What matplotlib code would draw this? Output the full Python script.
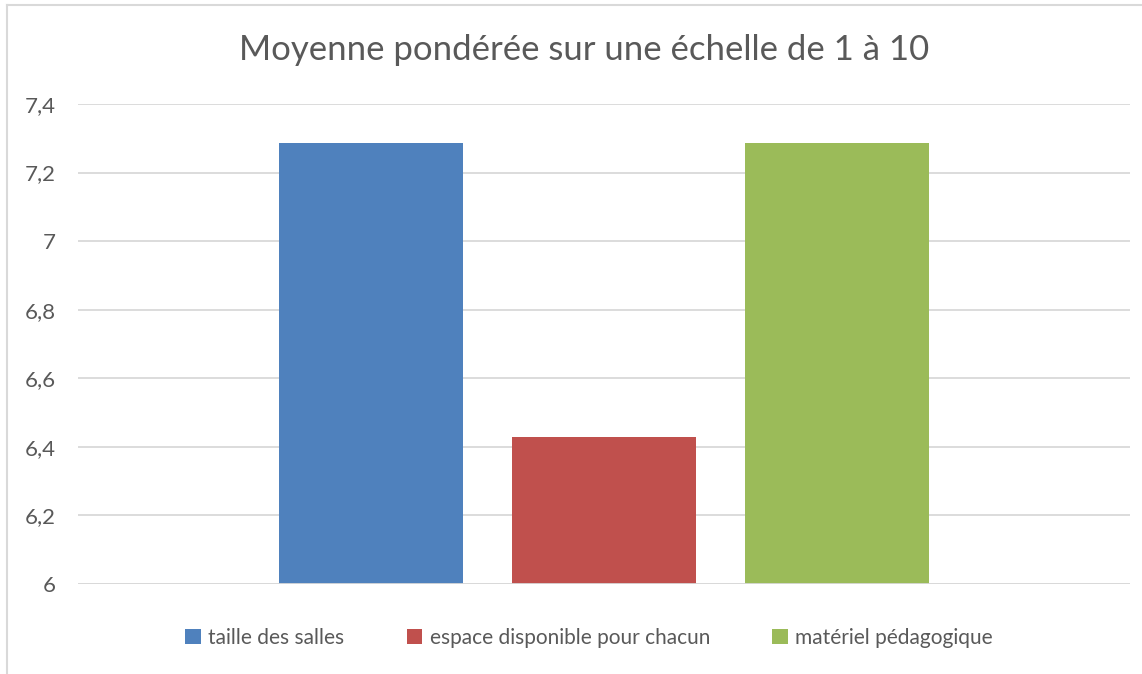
import matplotlib
matplotlib.use('Agg')
import matplotlib.pyplot as plt
from matplotlib.patches import Patch
from matplotlib.lines import Line2D
from matplotlib.ticker import FuncFormatter

# données
series = ['taille des salles', 'espace disponible pour chacun', 'matériel pédagogique']
values = [7.2857, 6.4286, 7.2857]
colors = ['#4F81BD', '#C0504D', '#9BBB59']
yticks = [6, 6.2, 6.4, 6.6, 6.8, 7, 7.2, 7.4]

plt.rcParams['font.family'] = ['Lato', 'DejaVu Sans']
txt = '#595959'
grid = '#D9D9D9'

W, H = 1142, 674
fig = plt.figure(figsize=(W / 100, H / 100), dpi=100)
ax = fig.add_axes([78 / W, 1 - 584 / H, (1130 - 78) / W, (584 - 104) / H])

offsets = [-0.2215, 0, 0.2215]
for off, v, c, s in zip(offsets, values, colors, series):
    ax.bar(off, v - 6, bottom=6, width=0.175, color=c, label=s, zorder=3)

ax.set_xlim(-0.5, 0.5)
ax.set_ylim(6, 7.4)
ax.set_yticks(yticks)
ax.yaxis.set_major_formatter(FuncFormatter(lambda v, p: ('%g' % round(v, 1)).replace('.', ',')))
ax.set_xticks([])
ax.tick_params(axis='y', length=0, pad=16, labelsize=16, labelcolor=txt)
ax.grid(axis='y', color=grid, linewidth=1.3, zorder=0)
for sp in ax.spines.values():
    sp.set_visible(False)
ax.axhline(6, color=grid, linewidth=1.3, zorder=4)

fig.text(584 / W, 1 - 50 / H, 'Moyenne pondérée sur une échelle de 1 à 10',
         ha='center', va='center', fontsize=25, color=txt)

handles = [Patch(facecolor=c, edgecolor='none') for c in colors]
fig.legend(handles, series, loc='center', bbox_to_anchor=(589 / W, 1 - 638 / H),
           ncol=3, frameon=False, fontsize=15, labelcolor=txt,
           handlelength=0.75, handleheight=0.75, handletextpad=0.35, columnspacing=3.0)

# cadre du graphique
fig.add_artist(Line2D([7 / W, 7 / W], [0, 1 - 5 / H], transform=fig.transFigure, color=grid, linewidth=1.5))
fig.add_artist(Line2D([7 / W, 1], [1 - 5 / H, 1 - 5 / H], transform=fig.transFigure, color=grid, linewidth=1.5))

fig.savefig('out.png', dpi=100, facecolor='white')
